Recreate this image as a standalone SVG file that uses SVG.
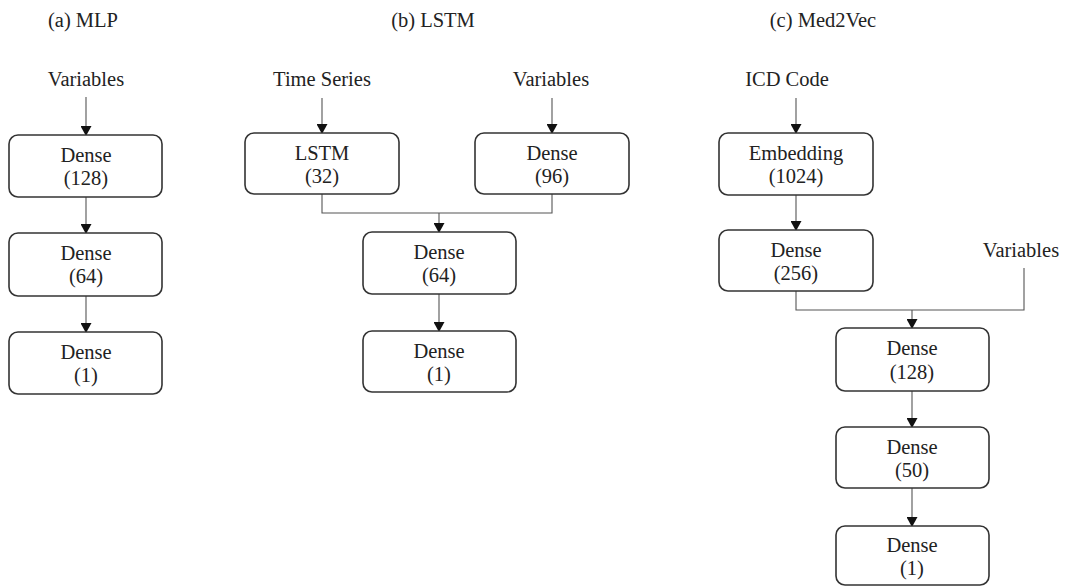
<svg xmlns="http://www.w3.org/2000/svg" width="1070" height="587" viewBox="0 0 1070 587" font-family="'Liberation Serif', serif">
<style>
text{font-family:'Liberation Serif',serif;font-size:20.5px;fill:#222;text-anchor:middle}
.box{fill:#fff;stroke:#333;stroke-width:1.6}
.c{fill:none;stroke:#555;stroke-width:1.1}
.a{marker-end:url(#arr)}
</style>
<defs>
<marker id="arr" markerUnits="userSpaceOnUse" markerWidth="10" markerHeight="11" refX="9" refY="5.5" orient="auto" viewBox="0 0 10 11">
<path d="M0,0 L10,5.5 L0,11 z" fill="#111"/>
</marker>
</defs>
<rect width="1070" height="587" fill="#fff"/>
<g id="titles">
<text x="83" y="27">(a) MLP</text>
<text x="433" y="27">(b) LSTM</text>
<text x="823" y="27">(c) Med2Vec</text>
</g>
<g id="inputs">
<text x="86" y="86">Variables</text>
<text x="322" y="86">Time Series</text>
<text x="551" y="86">Variables</text>
<text x="787" y="86">ICD Code</text>
<text x="1021" y="257">Variables</text>
</g>
<g id="connectors">
<path class="c a" d="M86,97 V135"/>
<path class="c a" d="M86,197 V233"/>
<path class="c a" d="M86,296 V332"/>
<path class="c a" d="M322,98 V133"/>
<path class="c a" d="M552,98 V133"/>
<path class="c" d="M322,194 V213 H552 V194"/>
<path class="c a" d="M439,213 V232"/>
<path class="c a" d="M439,294 V331"/>
<path class="c a" d="M796,98 V133"/>
<path class="c a" d="M796,195 V230"/>
<path class="c" d="M796,291 V310 H1024 V268"/>
<path class="c a" d="M912,310 V328"/>
<path class="c a" d="M912,391 V427"/>
<path class="c a" d="M912,488 V526"/>
</g>
<g id="mlp-dense128"><rect class="box" x="9" y="135" width="153" height="62" rx="9"/><text x="86" y="162">Dense</text><text x="86" y="185">(128)</text></g>
<g id="mlp-dense64"><rect class="box" x="9" y="233" width="153" height="63" rx="9"/><text x="86" y="260">Dense</text><text x="86" y="283">(64)</text></g>
<g id="mlp-dense1"><rect class="box" x="9" y="332" width="153" height="62" rx="9"/><text x="86" y="359">Dense</text><text x="86" y="382">(1)</text></g>
<g id="lstm-lstm32"><rect class="box" x="245" y="133" width="154" height="61" rx="9"/><text x="322" y="160">LSTM</text><text x="322" y="183">(32)</text></g>
<g id="lstm-dense96"><rect class="box" x="475" y="133" width="154" height="61" rx="9"/><text x="552" y="160">Dense</text><text x="552" y="183">(96)</text></g>
<g id="lstm-dense64"><rect class="box" x="363" y="232" width="153" height="62" rx="9"/><text x="439" y="259">Dense</text><text x="439" y="282">(64)</text></g>
<g id="lstm-dense1"><rect class="box" x="363" y="331" width="153" height="61" rx="9"/><text x="439" y="358">Dense</text><text x="439" y="381">(1)</text></g>
<g id="m2v-embedding"><rect class="box" x="719" y="133" width="154" height="62" rx="9"/><text x="796" y="160">Embedding</text><text x="796" y="183">(1024)</text></g>
<g id="m2v-dense256"><rect class="box" x="719" y="230" width="154" height="61" rx="9"/><text x="796" y="257">Dense</text><text x="796" y="280">(256)</text></g>
<g id="m2v-dense128"><rect class="box" x="836" y="328" width="153" height="63" rx="9"/><text x="912" y="355">Dense</text><text x="912" y="379">(128)</text></g>
<g id="m2v-dense50"><rect class="box" x="836" y="427" width="153" height="61" rx="9"/><text x="912" y="454">Dense</text><text x="912" y="477">(50)</text></g>
<g id="m2v-dense1"><rect class="box" x="836" y="526" width="153" height="59" rx="9"/><text x="912" y="552">Dense</text><text x="912" y="575">(1)</text></g>
</svg>
